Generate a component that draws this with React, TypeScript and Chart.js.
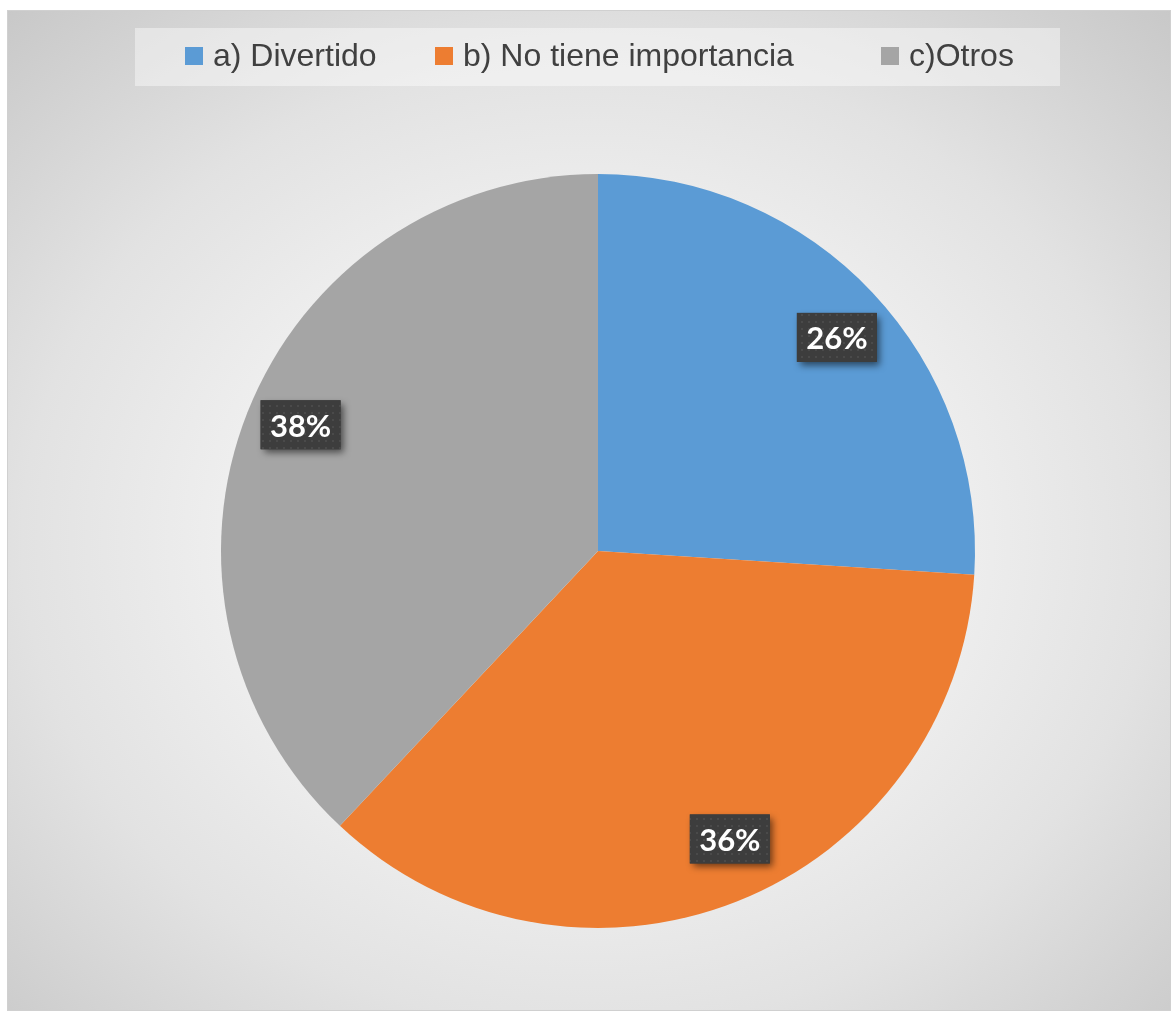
import React, { useEffect, useRef } from "react";
import { Chart, registerables } from "chart.js";

Chart.register(...registerables);

const categories = ["a) Divertido", "b) No tiene importancia", "c)Otros"];
const values = [26, 36, 38];
const sliceColors = ["#5B9BD5", "#ED7D31", "#A5A5A5"];

// legend item left positions (layout)
const legendItemX = [178, 428, 874];
// small label placement tweaks (style): angle offset (deg), radius factor
const labelAngleNudge = [1.4, -3.0, 1.4];
const labelRadiusFactor = [0.85, 0.84, 0.857];

function makePattern(ctx: CanvasRenderingContext2D) {
  const c = document.createElement("canvas");
  c.width = 7;
  c.height = 7;
  const p = c.getContext("2d")!;
  p.fillStyle = "#3d3d3d";
  p.fillRect(0, 0, 7, 7);
  p.fillStyle = "#4a4a4a";
  p.fillRect(3, 3, 2, 2);
  return ctx.createPattern(c, "repeat");
}

const legendPlugin = {
  id: "customLegend",
  beforeDatasetsDraw(chart: any) {
    const ctx = chart.ctx as CanvasRenderingContext2D;
    ctx.save();
    ctx.fillStyle = "rgba(255,255,255,0.42)";
    ctx.fillRect(128, 18, 925, 58);
    const labels = chart.data.labels as string[];
    const colors = chart.data.datasets[0].backgroundColor as string[];
    ctx.font = "32px 'Liberation Sans', Arial, sans-serif";
    ctx.textBaseline = "middle";
    ctx.textAlign = "left";
    labels.forEach((lab, i) => {
      const x = legendItemX[i];
      ctx.fillStyle = colors[i];
      ctx.fillRect(x, 37, 18, 18);
      ctx.fillStyle = "#404040";
      ctx.fillText(lab, x + 28, 47);
    });
    ctx.restore();
  },
};

const labelPlugin = {
  id: "pctLabels",
  afterDatasetsDraw(chart: any) {
    const ctx = chart.ctx as CanvasRenderingContext2D;
    const meta = chart.getDatasetMeta(0);
    const data = chart.data.datasets[0].data as number[];
    const total = data.reduce((a, b) => a + b, 0);
    const pattern = makePattern(ctx);
    meta.data.forEach((arc: any, i: number) => {
      const mid = (arc.startAngle + arc.endAngle) / 2 + (labelAngleNudge[i] * Math.PI) / 180;
      const r = arc.outerRadius * labelRadiusFactor[i];
      const cx = arc.x + Math.cos(mid) * r;
      const cy = arc.y + Math.sin(mid) * r;
      const text = Math.round((data[i] / total) * 100) + "%";
      const w = 80;
      const h = 49;
      ctx.save();
      ctx.shadowColor = "rgba(0,0,0,0.55)";
      ctx.shadowBlur = 7;
      ctx.shadowOffsetX = 3;
      ctx.shadowOffsetY = 4;
      ctx.fillStyle = "#3d3d3d";
      ctx.fillRect(cx - w / 2, cy - h / 2, w, h);
      ctx.restore();
      ctx.save();
      if (pattern) {
        ctx.fillStyle = pattern;
        ctx.fillRect(cx - w / 2, cy - h / 2, w, h);
      }
      ctx.fillStyle = "#ffffff";
      ctx.font = "bold 31px Lato, 'Open Sans', sans-serif";
      ctx.textAlign = "center";
      ctx.textBaseline = "middle";
      ctx.fillText(text, cx, cy + 2);
      ctx.restore();
    });
  },
};

export default function App() {
  const ref = useRef<HTMLCanvasElement>(null);
  useEffect(() => {
    if (!ref.current) return;
    const chart = new Chart(ref.current, {
      type: "pie",
      data: {
        labels: categories,
        datasets: [
          {
            data: values,
            backgroundColor: sliceColors,
            borderWidth: 0,
          },
        ],
      },
      options: {
        animation: false,
        responsive: false,
        maintainAspectRatio: false,
        layout: { padding: { left: 214, right: 196, top: 164, bottom: 83 } },
        plugins: {
          legend: { display: false },
          tooltip: { enabled: false },
        },
      },
      plugins: [legendPlugin, labelPlugin],
    });
    return () => chart.destroy();
  }, []);
  return (
    <div
      style={{
        position: "absolute",
        left: 7,
        top: 10,
        width: 1164,
        height: 1001,
        boxSizing: "border-box",
        border: "1px solid #d0d0d0",
        background:
          "radial-gradient(ellipse 75% 75% at 50% 53%, #f8f8f8 0%, #f2f2f2 35%, #e2e2e2 65%, #d2d2d2 85%, #c6c6c6 100%)",
        overflow: "hidden",
      }}
    >
      <canvas
        ref={ref}
        width={1164}
        height={1001}
        style={{ position: "absolute", left: -1, top: -1, width: 1164, height: 1001 }}
      />
    </div>
  );
}
